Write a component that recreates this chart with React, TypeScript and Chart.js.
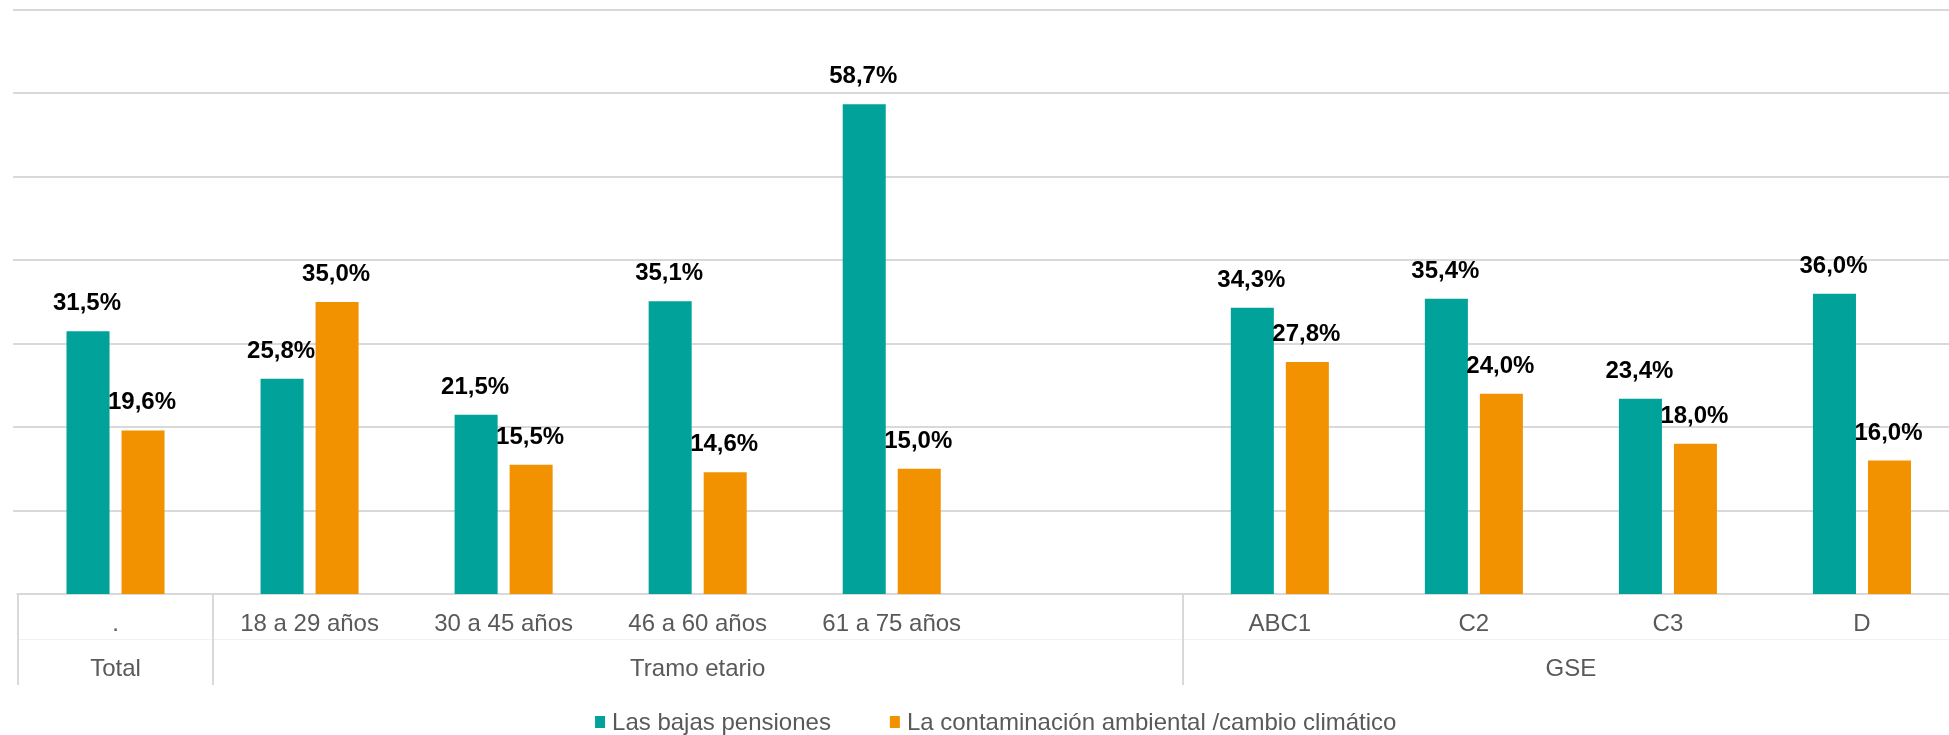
import React, { useEffect, useRef } from "react";
import { Chart, registerables } from "chart.js";

Chart.register(...registerables);

const categories = [".", "18 a 29 años", "30 a 45 años", "46 a 60 años", "61 a 75 años", "", "ABC1", "C2", "C3", "D"];
const groupLabels = ["Total", "Tramo etario", "GSE"];
const groupStart = [0, 1, 6];
const groupEnd = [0, 5, 9];
const seriesNames = ["Las bajas pensiones", "La contaminación ambiental /cambio climático"];
const pensiones = [31.5, 25.8, 21.5, 35.1, 58.7, null, 34.3, 35.4, 23.4, 36.0];
const contaminacion = [19.6, 35.0, 15.5, 14.6, 15.0, null, 27.8, 24.0, 18.0, 16.0];
const gridValues = [0, 10, 20, 30, 40, 50, 60, 70];

const TEAL = "#00A29A";
const ORANGE = "#F29200";
const GRID = "#D9D9D9";
const TEXT = "#595959";
const FONT = '"Liberation Sans", Arial, sans-serif';

const CANVAS_W = 1970;
const CANVAS_H = 735;

const fmt = (v: number) => v.toFixed(1).replace(".", ",") + "%";

const decorPlugin = {
  id: "decor",
  beforeDatasetsDraw(chart: any) {
    const ctx = chart.ctx;
    const y = chart.scales.y;
    const x = chart.scales.x;
    ctx.save();
    ctx.strokeStyle = GRID;
    ctx.lineWidth = 2;
    gridValues.forEach((v) => {
      const py = Math.round(y.getPixelForValue(v));
      ctx.beginPath();
      ctx.moveTo(v === 0 ? chart.chartArea.left - 2 : 13, py);
      ctx.lineTo(CANVAS_W, py);
      ctx.stroke();
    });
    ctx.restore();
  },
  afterDatasetsDraw(chart: any) {
    const ctx = chart.ctx;
    const x = chart.scales.x;
    const y = chart.scales.y;
    const area = chart.chartArea;
    ctx.save();
    // data labels
    ctx.font = `bold 24px ${FONT}`;
    ctx.fillStyle = "#000";
    ctx.textAlign = "center";
    ctx.textBaseline = "alphabetic";
    chart.data.datasets.forEach((ds: any, di: number) => {
      const meta = chart.getDatasetMeta(di);
      meta.data.forEach((bar: any, i: number) => {
        const v = ds.data[i];
        if (v === null || v === undefined) return;
        ctx.fillText(fmt(v), bar.x - 1, bar.y - 21);
      });
    });

    // x axis table
    const n = categories.length;
    const cw = (x.getPixelForValue(n - 1) - x.getPixelForValue(0)) / (n - 1);
    const axisY = Math.round(y.getPixelForValue(0));
    const bottomY = axisY + 91;
    const edge = (i: number) => x.getPixelForValue(i) - cw / 2;

    // faint row divider
    ctx.strokeStyle = "#F2F2F2";
    ctx.lineWidth = 1;
    ctx.beginPath();
    ctx.moveTo(edge(0), axisY + 45.5);
    ctx.lineTo(CANVAS_W, axisY + 45.5);
    ctx.stroke();

    ctx.strokeStyle = GRID;
    ctx.lineWidth = 2;
    const seps = [edge(0) - 1, edge(1), edge(6), edge(n)];
    seps.forEach((sx) => {
      ctx.beginPath();
      ctx.moveTo(Math.round(sx), axisY);
      ctx.lineTo(Math.round(sx), bottomY);
      ctx.stroke();
    });

    ctx.fillStyle = TEXT;
    ctx.font = `24px ${FONT}`;
    ctx.textAlign = "center";
    categories.forEach((c, i) => {
      if (!c) return;
      ctx.fillText(c, x.getPixelForValue(i), axisY + 37);
    });
    groupLabels.forEach((g, gi) => {
      const cx = (edge(groupStart[gi]) + edge(groupEnd[gi] + 1)) / 2;
      ctx.fillText(g, cx, axisY + 82);
    });

    // legend
    const colors = [TEAL, ORANGE];
    const widths = seriesNames.map((s) => ctx.measureText(s).width);
    const box = 10;
    const boxGap = 7;
    const itemGap = 59;
    const total = widths.reduce((a, w) => a + box + boxGap + w, 0) + itemGap;
    let lx = (area.left + area.right) / 2 + 7 - total / 2;
    const ly = 730;
    ctx.textAlign = "left";
    seriesNames.forEach((s, i) => {
      ctx.fillStyle = colors[i];
      ctx.fillRect(lx, ly - 14, box, 12);
      lx += box + boxGap;
      ctx.fillStyle = TEXT;
      ctx.fillText(s, lx, ly);
      lx += widths[i] + itemGap;
    });
    ctx.restore();
  },
};

export default function App() {
  const ref = useRef<HTMLCanvasElement>(null);
  useEffect(() => {
    if (!ref.current) return;
    const chart = new Chart(ref.current, {
      type: "bar",
      data: {
        labels: categories,
        datasets: [
          {
            label: seriesNames[0],
            data: pensiones,
            backgroundColor: TEAL,
            borderWidth: 0,
            categoryPercentage: 0.567,
            barPercentage: 0.782,
          },
          {
            label: seriesNames[1],
            data: contaminacion,
            backgroundColor: ORANGE,
            borderWidth: 0,
            categoryPercentage: 0.567,
            barPercentage: 0.782,
          },
        ],
      },
      options: {
        animation: false,
        responsive: false,
        maintainAspectRatio: false,
        devicePixelRatio: 1,
        layout: { padding: { left: 18.5, right: CANVAS_W - 1959, top: 10, bottom: CANVAS_H - 594 } },
        plugins: { legend: { display: false }, tooltip: { enabled: false } },
        scales: {
          x: { display: false },
          y: { display: false, min: 0, max: 70 },
        },
      },
      plugins: [decorPlugin],
    });
    return () => chart.destroy();
  }, []);
  return (
    <div style={{ position: "absolute", left: 0, top: 0, width: 1949, height: 735, overflow: "hidden", background: "#fff" }}>
      <canvas ref={ref} width={CANVAS_W} height={CANVAS_H} style={{ display: "block", width: CANVAS_W, height: CANVAS_H }} />
    </div>
  );
}
